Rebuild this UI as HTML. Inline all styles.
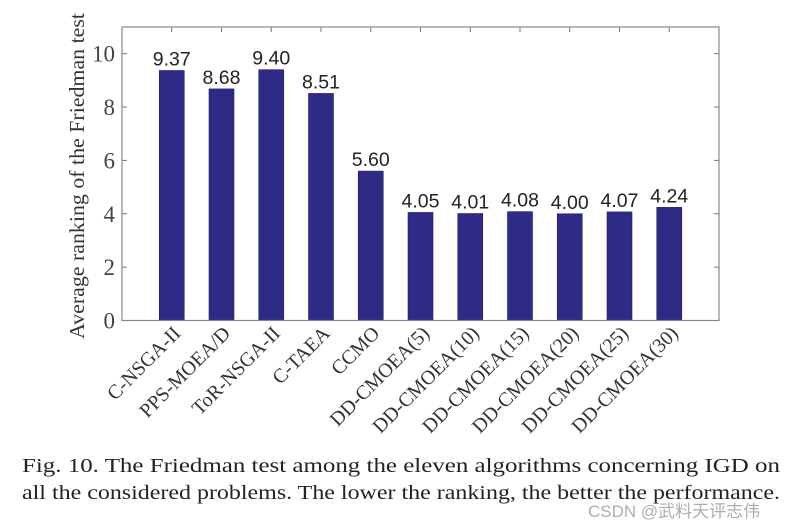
<!DOCTYPE html>
<html><head><meta charset="utf-8"><style>
html,body{margin:0;padding:0;background:#fff;}
svg{display:block;}
</style></head><body>
<svg id="chart" width="793" height="529" viewBox="0 0 793 529" xmlns="http://www.w3.org/2000/svg">
<g id="plot"></g>
<text transform="translate(84,176) rotate(-90)" text-anchor="middle" font-family="Liberation Serif, serif" font-size="21" fill="#333" textLength="326" lengthAdjust="spacingAndGlyphs">Average ranking of the Friedman test</text>
<text x="22" y="472" font-family="Liberation Serif, serif" font-size="20" fill="#222" textLength="758" lengthAdjust="spacingAndGlyphs">Fig. 10.  The Friedman test among the eleven algorithms concerning IGD on</text>
<text x="22" y="499" font-family="Liberation Serif, serif" font-size="20" fill="#222" textLength="758" lengthAdjust="spacingAndGlyphs">all the considered problems. The lower the ranking, the better the performance.</text>
<text x="588" y="517" font-family="Liberation Sans, Noto Sans CJK SC, sans-serif" font-size="17" fill="#999" opacity="0.8">CSDN @武料天评志伟</text>
</svg>
<script>
const categories = ["C-NSGA-II","PPS-MOEA/D","ToR-NSGA-II","C-TAEA","CCMO","DD-CMOEA(5)","DD-CMOEA(10)","DD-CMOEA(15)","DD-CMOEA(20)","DD-CMOEA(25)","DD-CMOEA(30)"];
const values = [9.37,8.68,9.40,8.51,5.60,4.05,4.01,4.08,4.00,4.07,4.24];
const yTicks = [0,2,4,6,8,10];
const yMax = 11;

const NS = "http://www.w3.org/2000/svg";
const g = document.getElementById("plot");
const L = 122, R = 719, T = 27, B = 320.5;
const x = i => L + (i + 1) * (R - L) / (categories.length + 1);
const y = v => B - v / yMax * (B - T);
function mk(tag, attrs, parent) {
  const e = document.createElementNS(NS, tag);
  for (const k in attrs) e.setAttribute(k, attrs[k]);
  (parent || g).appendChild(e);
  return e;
}
const bw = 25;
categories.forEach((c, i) => {
  const cx = x(i);
  const b = mk("rect", {x: cx - bw/2, y: y(values[i]), width: bw, height: B - y(values[i]), fill: "#2e2a85", stroke: "#22206a", "stroke-width": 0.6});
  
  
  const t = mk("text", {x: cx, y: y(values[i]) - 5, "text-anchor": "middle", "font-family": "Liberation Sans, sans-serif", "font-size": 19.5, fill: "#222"});
  t.textContent = values[i].toFixed(2);
  
  
  const lab = mk("text", {transform: `translate(${cx + 10},${B + 14}) rotate(-45)`, "text-anchor": "end", "font-family": "Liberation Serif, serif", "font-size": 20, fill: "#333"});
  lab.textContent = c;
  
  
  mk("line", {x1: cx, x2: cx, y1: T, y2: T + 5, stroke: "#777", "stroke-width": 1});
});
yTicks.forEach(v => {
  const yy = y(v);
  mk("line", {x1: L, x2: L + 5, y1: yy, y2: yy, stroke: "#777", "stroke-width": 1});
  mk("line", {x1: R, x2: R - 5, y1: yy, y2: yy, stroke: "#777", "stroke-width": 1});
  const t = mk("text", {x: L - 7, y: yy + 8, "text-anchor": "end", "font-family": "Liberation Serif, serif", "font-size": 23, fill: "#444"});
  t.textContent = v;
  
  
});
const frame = mk("rect", {x: L, y: T, width: R - L, height: B - T, fill: "none", stroke: "#888", "stroke-width": 1.2});


</script>
</body></html>
